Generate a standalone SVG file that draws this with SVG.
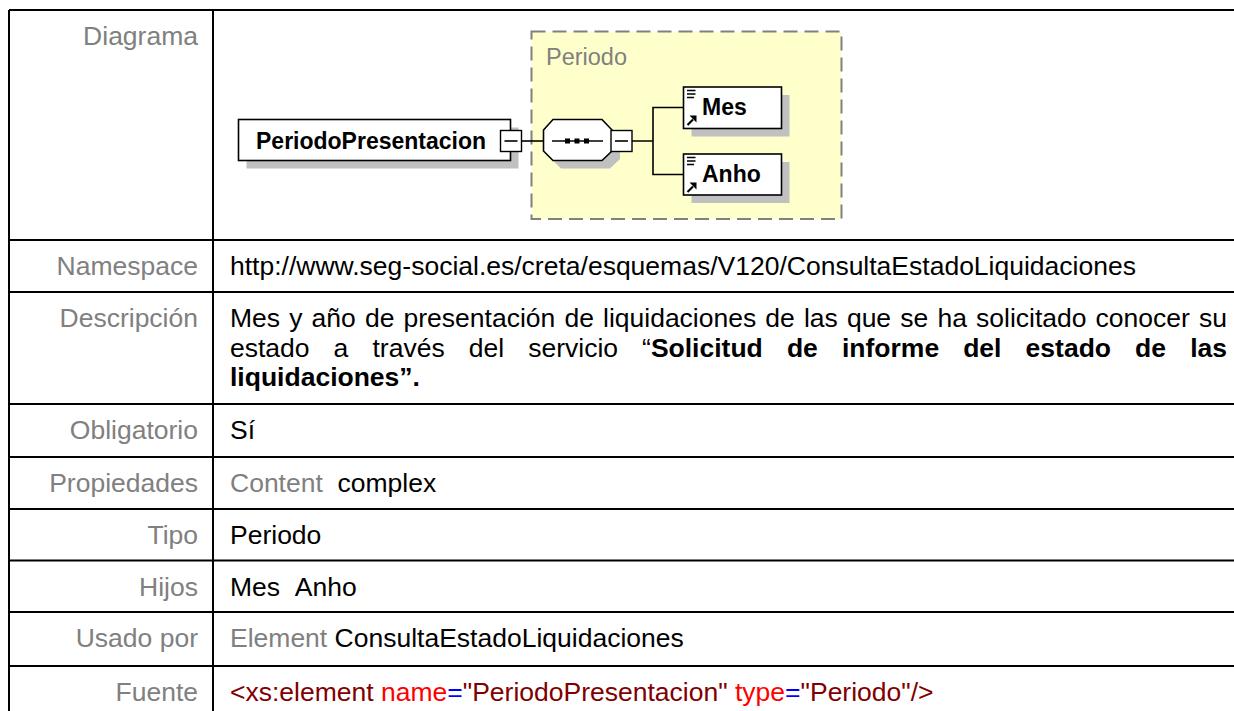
<svg xmlns="http://www.w3.org/2000/svg" width="1234" height="711" viewBox="0 0 1234 711">
<style>
text{font-family:"Liberation Sans",Arial,Helvetica,sans-serif;}
.lbl{font-size:26.5px;fill:#808080;text-anchor:end;}
.val{font-size:26.5px;fill:#000;}
.gry{fill:#808080;}
.bd{font-weight:bold;}
.dr{fill:#800000;}
.rd{fill:#ff0000;}
.bl{fill:#0000ff;}
.grid{stroke:#000;stroke-width:2;fill:none;}
.nm{font-size:23px;font-weight:bold;fill:#000;}
.box{fill:#fff;stroke:#000;stroke-width:1.6;}
.shd{fill:#c0c0c0;stroke:none;}
.btn{fill:#fff;stroke:#000;stroke-width:1.4;}
.ln{stroke:#000;stroke-width:1.6;fill:none;}
.icn{stroke:#000;stroke-width:1.4;fill:none;}
</style>
<rect x="0" y="0" width="1234" height="711" fill="#fff"/>

<!-- table grid -->
<g id="table-grid" class="grid">
<path d="M9 10 V711 M213 10 V711"/>
<path d="M9 10 H1234 M9 240 H1234 M9 292 H1234 M9 404 H1234 M9 457 H1234 M9 509 H1234 M9 560.5 H1234 M9 612 H1234 M9 666 H1234"/>
</g>

<!-- left labels -->
<g id="labels">
<text class="lbl" x="198" y="45">Diagrama</text>
<text class="lbl" x="198" y="275">Namespace</text>
<text class="lbl" x="198" y="327">Descripción</text>
<text class="lbl" x="198" y="439">Obligatorio</text>
<text class="lbl" x="198" y="492">Propiedades</text>
<text class="lbl" x="198" y="544">Tipo</text>
<text class="lbl" x="198" y="596">Hijos</text>
<text class="lbl" x="198" y="647">Usado por</text>
<text class="lbl" x="198" y="701">Fuente</text>
</g>

<!-- values -->
<g id="values">
<text class="val" x="230" y="275">http://www.seg-social.es/creta/esquemas/V120/ConsultaEstadoLiquidaciones</text>
<text class="val" y="327"><tspan x="230">Mes</tspan><tspan x="289.2">y</tspan><tspan x="311.6">año</tspan><tspan x="364.9">de</tspan><tspan x="403.5">presentación</tspan><tspan x="564.4">de</tspan><tspan x="603">liquidaciones</tspan><tspan x="765.3">de</tspan><tspan x="803.9">las</tspan><tspan x="846.9">que</tspan><tspan x="900.3">se</tspan><tspan x="937.4">ha</tspan><tspan x="976">solicitado</tspan><tspan x="1095.6">conocer</tspan><tspan x="1199">su</tspan></text>
<text class="val" y="356.5"><tspan x="230">estado</tspan><tspan x="333.6">a</tspan><tspan x="372.5">través</tspan><tspan x="468.7">del</tspan><tspan x="528.2">servicio</tspan><tspan x="642.1">“</tspan><tspan class="bd" x="650.9">Solicitud</tspan><tspan class="bd" x="786.9">de</tspan><tspan class="bd" x="842">informe</tspan><tspan class="bd" x="963.2">del</tspan><tspan class="bd" x="1025.6">estado</tspan><tspan class="bd" x="1135.1">de</tspan><tspan class="bd" x="1190.2">las</tspan></text>
<text class="val bd" x="230" y="386">liquidaciones”.</text>
<text class="val" x="230" y="439">Sí</text>
<text class="val" y="492"><tspan class="gry" x="230">Content</tspan><tspan x="337.5">complex</tspan></text>
<text class="val" x="230" y="544">Periodo</text>
<text class="val" y="596"><tspan x="230">Mes</tspan><tspan x="294.8">Anho</tspan></text>
<text class="val" x="230" y="647"><tspan class="gry">Element</tspan> <tspan>ConsultaEstadoLiquidaciones</tspan></text>
<text class="val" x="230" y="701"><tspan class="dr">&lt;xs:element </tspan><tspan class="rd">name</tspan><tspan class="bl">=</tspan><tspan class="dr">"PeriodoPresentacion" </tspan><tspan class="rd">type</tspan><tspan class="bl">=</tspan><tspan class="dr">"Periodo"/&gt;</tspan></text>
</g>

<!-- diagram -->
<g id="group-Periodo">
<rect x="531.5" y="31.5" width="310" height="187.5" fill="#ffffcc" stroke="#808080" stroke-width="2" stroke-dasharray="14 7"/>
<text x="546" y="65" font-size="23.5" fill="#808080">Periodo</text>
</g>

<g id="connectors" class="ln">
<path d="M521.5 141 H543.5"/>
<path d="M632 141 H653 M683.5 107.5 H653 V174.5 H683.5"/>
</g>

<g id="node-PeriodoPresentacion">
<rect class="shd" x="246.5" y="127.5" width="272" height="41"/>
<rect class="box" x="238.5" y="119.5" width="272" height="41"/>
<text class="nm" x="256" y="148.5">PeriodoPresentacion</text>
<rect class="btn" x="500.5" y="130.5" width="21" height="21"/>
<path class="ln" d="M504.5 141 H517.5"/>
</g>

<g id="node-sequence">
<polygon class="shd" points="561,127.5 610,127.5 620,138 620,159 610,168.5 561,168.5 551.5,159 551.5,138"/>
<polygon class="box" points="553,119.5 602,119.5 612,130 612,151 602,160.5 553,160.5 543.5,151 543.5,130"/>
<path class="ln" d="M552 141 H603"/>
<rect x="565" y="138.5" width="5" height="5" fill="#000"/>
<rect x="574.5" y="138.5" width="5" height="5" fill="#000"/>
<rect x="584" y="138.5" width="5" height="5" fill="#000"/>
<rect class="btn" x="611" y="130.5" width="21" height="21"/>
<path class="ln" d="M615 141 H628"/>
</g>

<g id="node-Mes">
<rect class="shd" x="691.5" y="95" width="98" height="41.5"/>
<rect class="box" x="683.5" y="87" width="98" height="41.5"/>
<path class="icn" d="M687 90.5 H695.5 M687 94 H695.5 M687 97.5 H694"/>
<path d="M687.5 125 L693 119.5" stroke="#000" stroke-width="2.2"/>
<polygon points="689.5,115.5 696.5,115.5 696.5,122.5" fill="#000"/>
<text class="nm" x="702" y="115">Mes</text>
</g>

<g id="node-Anho">
<rect class="shd" x="691.5" y="162" width="98" height="41"/>
<rect class="box" x="683.5" y="154" width="98" height="41"/>
<path class="icn" d="M687 157.5 H695.5 M687 161 H695.5 M687 164.5 H694"/>
<path d="M687.5 192 L693 186.5" stroke="#000" stroke-width="2.2"/>
<polygon points="689.5,182.5 696.5,182.5 696.5,189.5" fill="#000"/>
<text class="nm" x="702" y="182">Anho</text>
</g>
</svg>
